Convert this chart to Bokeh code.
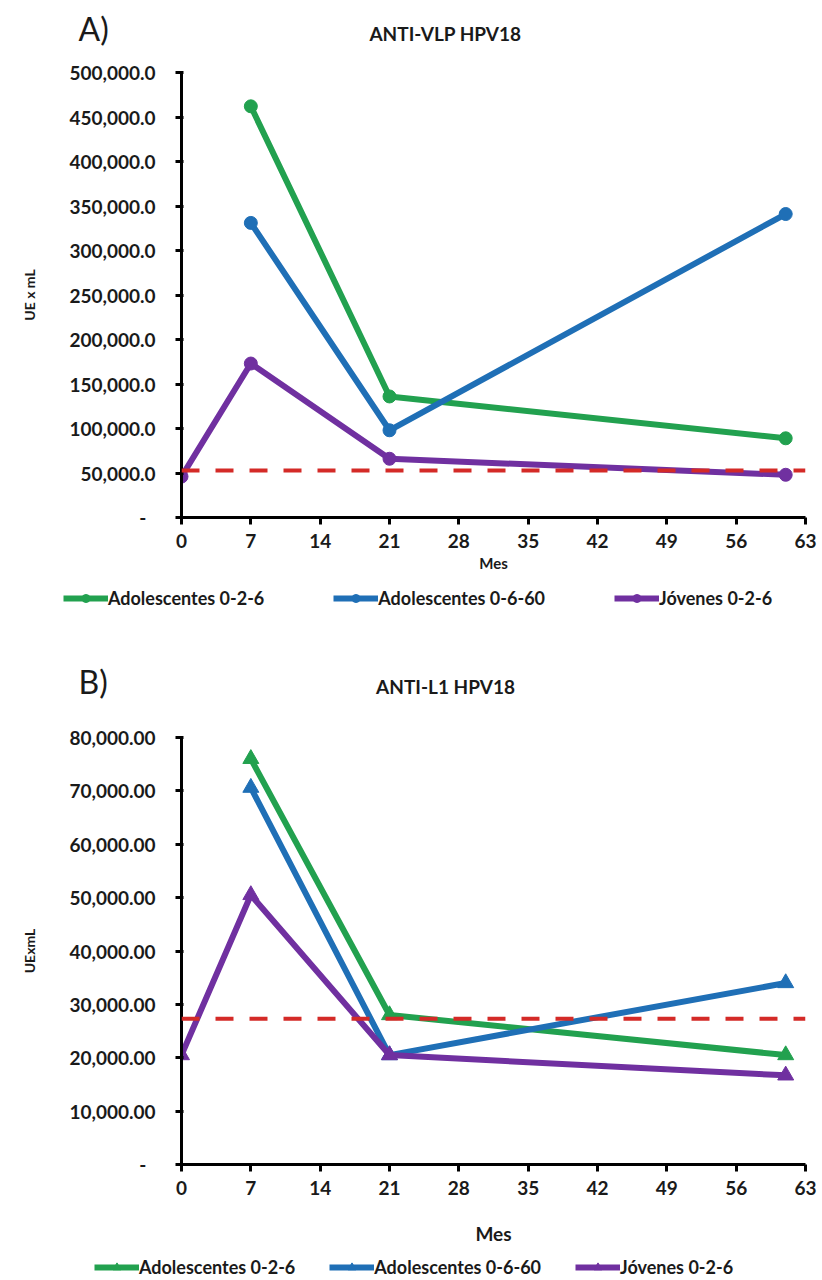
from bokeh.plotting import figure
from bokeh.models import Span, Legend, LegendItem, FixedTicker
from bokeh.core.properties import value
from bokeh.layouts import column
from bokeh.embed import file_html
from bokeh.resources import INLINE

# ---------------- data ----------------
x_ticks = [0, 7, 14, 21, 28, 35, 42, 49, 56, 63]
series_names = ["Adolescentes 0-2-6", "Adolescentes 0-6-60", "Jóvenes 0-2-6"]
series_colors = ["#22a14f", "#1f6fb6", "#7030a0"]

# Panel A: ANTI-VLP HPV18
a_ado026_x = [7, 21, 61]
a_ado026_y = [462000, 136000, 89000]
a_ado0660_x = [7, 21, 61]
a_ado0660_y = [331000, 98000, 341000]
a_jov026_x = [0, 7, 21, 61]
a_jov026_y = [46000, 173000, 66000, 48000]
a_threshold = 52800
a_y_ticks = [0, 50000, 100000, 150000, 200000, 250000, 300000, 350000, 400000, 450000, 500000]
a_y_labels = ["-  ", "50,000.0", "100,000.0", "150,000.0", "200,000.0", "250,000.0",
              "300,000.0", "350,000.0", "400,000.0", "450,000.0", "500,000.0"]

# Panel B: ANTI-L1 HPV18
b_ado026_x = [7, 21, 61]
b_ado026_y = [76000, 28000, 20500]
b_ado0660_x = [7, 21, 61]
b_ado0660_y = [70600, 20500, 34000]
b_jov026_x = [0, 7, 21, 61]
b_jov026_y = [20500, 50500, 20500, 16700]
b_threshold = 27300
b_y_ticks = [0, 10000, 20000, 30000, 40000, 50000, 60000, 70000, 80000]
b_y_labels = ["-  ", "10,000.00", "20,000.00", "30,000.00", "40,000.00", "50,000.00",
              "60,000.00", "70,000.00", "80,000.00"]

FONT = "Lato"
TXT = "#1a1a1a"


def blank(height):
    f = figure(width=822, height=height, x_range=(0, 822), y_range=(height, 0),
               x_axis_type=None, y_axis_type=None, output_backend="svg",
               toolbar_location=None, min_border=0, frame_align=False)
    f.outline_line_color = None
    f.xgrid.grid_line_color = None
    f.ygrid.grid_line_color = None
    return f


def make_header(letter, title, height, text_y):
    h = blank(height)
    h.text(x=[78], y=[text_y - 2], text=[letter], text_font=value(FONT),
           text_font_size="32px", text_baseline="middle", text_align="left",
           text_color=TXT)
    h.text(x=[445], y=[text_y + 3], text=[title], text_font=value(FONT),
           text_font_style="bold", text_font_size="19px", text_baseline="middle",
           text_align="center", text_color=TXT)
    return h


def make_footer(height, marker, marker_size, loc, spacing):
    f = blank(height)
    items = []
    for name, color in zip(series_names, series_colors):
        lr = f.line([-50, -40], [-50, -50], line_color=color, line_width=6)
        sr = f.scatter([-45], [-50], marker=marker, size=marker_size,
                       fill_color=color, line_color=color)
        items.append(LegendItem(label=name, renderers=[lr, sr]))
    legend = Legend(items=items, orientation="horizontal", location=loc,
                    glyph_width=45, glyph_height=20, label_height=20,
                    label_standoff=0, spacing=spacing, padding=0, margin=0,
                    border_line_color=None, background_fill_alpha=0,
                    label_text_font=FONT, label_text_font_style="bold",
                    label_text_font_size="18px", label_text_color=TXT)
    f.add_layout(legend)
    return f


def make_panel(ylabel, xs, ys, marker, threshold, y_ticks, y_labels, y_max,
               height, border_top, border_bottom, xlabel_size, xlabel_standoff,
               marker_size):
    p = figure(width=822, height=height, x_range=(0, 63), y_range=(0, y_max),
               output_backend="svg", toolbar_location=None, frame_align=False,
               min_border_left=181, min_border_right=17,
               min_border_top=border_top, min_border_bottom=border_bottom)
    p.outline_line_color = None
    p.xgrid.grid_line_color = None
    p.ygrid.grid_line_color = None

    for ax in (p.xaxis[0], p.yaxis[0]):
        ax.axis_line_width = 3
        ax.axis_line_color = "black"
        ax.major_tick_line_width = 3
        ax.major_tick_line_color = "black"
        ax.minor_tick_line_color = None
        ax.major_label_text_font = FONT
        ax.major_label_text_font_style = "bold"
        ax.major_label_text_font_size = "19px"
        ax.major_label_text_color = TXT
        ax.axis_label_text_font = FONT
        ax.axis_label_text_font_style = "bold"
        ax.axis_label_text_color = TXT

    p.xaxis.ticker = FixedTicker(ticks=x_ticks)
    p.xaxis.major_tick_out = 7
    p.xaxis.major_tick_in = 0
    p.xaxis.major_label_standoff = 9
    p.xaxis.axis_label = "Mes"
    p.xaxis.axis_label_text_font_size = xlabel_size
    p.xaxis.axis_label_standoff = xlabel_standoff

    p.yaxis.ticker = FixedTicker(ticks=y_ticks)
    p.yaxis.major_label_overrides = {t: l for t, l in zip(y_ticks, y_labels)}
    p.yaxis.major_tick_out = 6
    p.yaxis.major_tick_in = 2
    p.yaxis.major_label_standoff = 20
    p.yaxis.axis_label = ylabel
    p.yaxis.axis_label_text_font_size = "14px"
    p.yaxis.axis_label_standoff = 28

    for color, x, y in zip(series_colors, xs, ys):
        p.line(x, y, line_color=color, line_width=6)
        p.scatter(x, y, marker=marker, size=marker_size, fill_color=color,
                  line_color=color)

    p.add_layout(Span(location=threshold, dimension="width", line_color="#d42a27",
                      line_width=4, line_dash="18 16"))
    return p


ha = make_header("A)", "ANTI-VLP HPV18", 60, 30)
pa = make_panel("UE x mL",
                [a_ado026_x, a_ado0660_x, a_jov026_x],
                [a_ado026_y, a_ado0660_y, a_jov026_y],
                "circle", a_threshold, a_y_ticks, a_y_labels, 500000,
                525, 12, 68, "15px", 3, 13)
fa = make_footer(45, "circle", 7, (63, 21), 69)

hb = make_header("B)", "ANTI-L1 HPV18", 70, 53)
pb = make_panel("UExmL",
                [b_ado026_x, b_ado0660_x, b_jov026_x],
                [b_ado026_y, b_ado0660_y, b_jov026_y],
                "triangle", b_threshold, b_y_ticks, b_y_labels, 80000,
                552, 37, 88, "19px", 24, 16)
fb = make_footer(28, "triangle", 9, (94, 2), 34)

layout = column(ha, pa, fa, hb, pb, fb, spacing=0)
open("out.html", "w").write(file_html(layout, INLINE))
